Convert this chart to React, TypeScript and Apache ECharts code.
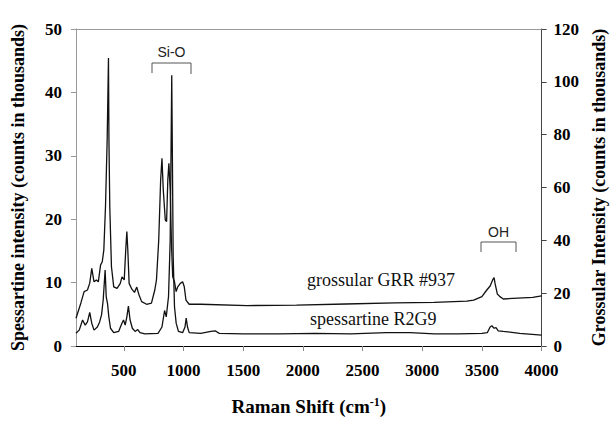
import React, { useEffect, useRef } from "react";
import * as echarts from "echarts";

// Raman shift ticks (cm-1)
const xTickValues = [500, 1000, 1500, 2000, 2500, 3000, 3500, 4000];

// Grossular GRR #937 (right axis, counts in thousands)
const grossularShift = [
  100, 141, 168, 196, 215, 232, 251, 271, 287, 306, 320, 333, 347, 361, 372,
  376, 383, 397, 416, 444, 471, 485, 504, 518, 526, 534, 545, 568, 590, 609,
  628, 650, 691, 732, 760, 774, 793, 809, 820, 831, 848, 859, 869, 878, 889,
  900, 910, 925, 939, 952, 974, 993, 1007, 1021, 1048, 1145, 1535, 1947, 2359,
  2771, 3101, 3373, 3431, 3500, 3541, 3569, 3590, 3602, 3610, 3629, 3651, 3679,
  3800, 3926, 4000,
];
const grossularIntensity = [
  10.5, 16.3, 20.6, 21.2, 23.8, 29.4, 24.3, 25.0, 24.3, 30.7, 31.9, 36.3, 52.7,
  78, 109, 78, 52.7, 30.0, 22.4, 21.8, 23.7, 26.2, 25.0, 37.6, 43.3, 36.3, 23.7,
  21.5, 20.3, 22.3, 19.3, 16.8, 15.8, 16.2, 21.2, 25.0, 40.1, 62.8, 71.1, 59.1,
  47.7, 47.1, 62.8, 69.2, 59.1, 38, 26.2, 24.3, 20.6, 22.4, 23.7, 24.3, 22.4,
  17.4, 15.8, 15.8, 15.3, 15.5, 15.9, 16.3, 16.5, 17.0, 17.4, 18.7, 21.2, 22.7,
  25.0, 25.9, 23.7, 19.7, 18.7, 17.8, 18.1, 18.4, 19.0,
];

// Spessartine R2G9 (left axis, counts in thousands)
const spessartineShift = [
  100, 127, 155, 177, 196, 215, 232, 251, 279, 298, 314, 328, 344, 353, 364,
  375, 389, 416, 457, 485, 498, 512, 526, 539, 553, 572, 595, 617, 636, 677,
  787, 820, 842, 856, 875, 889, 902, 914, 925, 939, 958, 993, 1013, 1023, 1034,
  1048, 1145, 1230, 1265, 1300, 1500, 1800, 2100, 2400, 2700, 2900, 3100, 3300,
  3500, 3545, 3569, 3583, 3602, 3618, 3637, 3679, 3816, 4000,
];
const spessartineIntensity = [
  2.0, 2.5, 4.1, 3.3, 3.8, 5.3, 3.6, 2.5, 3.0, 3.8, 4.9, 7.3, 12.0, 7.8, 6.7,
  4.6, 2.8, 2.1, 2.3, 3.6, 4.1, 3.3, 4.6, 6.3, 4.1, 2.8, 2.3, 2.6, 2.1, 1.9,
  2.0, 3.0, 5.6, 4.6, 7.8, 16.7, 42.7, 14.1, 6.2, 3.6, 2.3, 2.1, 3.0, 4.4, 3.0,
  2.1, 2.0, 2.3, 2.4, 2.0, 1.9, 1.9, 2.0, 1.9, 2.1, 2.1, 1.9, 1.9, 2.0, 2.1,
  3.0, 3.2, 2.8, 2.9, 2.4, 2.3, 2.0, 1.7,
];

const SERIF = "'Liberation Serif', 'Times New Roman', serif";
const SANS = "'Liberation Sans', Arial, sans-serif";

export default function App() {
  const ref = useRef<HTMLDivElement>(null);
  useEffect(() => {
    document.body.style.margin = "0";
    const chart = echarts.init(ref.current!, null, { renderer: "svg" });
    const gData = grossularShift.map((x, i) => [x, grossularIntensity[i]]);
    const sData = spessartineShift.map((x, i) => [x, spessartineIntensity[i]]);
    const plain = (v: number) => String(v);
    const tickLabel = {
      fontFamily: SERIF,
      fontWeight: "bold",
      fontSize: 17,
      color: "#000",
      formatter: plain,
    };
    const titleStyle = {
      fontFamily: SERIF,
      fontWeight: "bold",
      fontSize: 18,
      color: "#000",
    };
    chart.setOption({
      animation: false,
      backgroundColor: "#fff",
      grid: { left: 76, right: 67, top: 29, bottom: 76, containLabel: false },
      xAxis: [
        {
          type: "value",
          min: 100,
          max: 4000,
          position: "bottom",
          splitLine: { show: false },
          axisLine: { show: true, onZero: false, lineStyle: { color: "#000", width: 1 } },
          axisTick: {
            show: true,
            inside: false,
            length: 5,
            customValues: xTickValues,
            lineStyle: { color: "#888" },
          },
          axisLabel: { ...tickLabel, margin: 16, customValues: xTickValues },
          name: "Raman Shift (cm{sup|-1})",
          nameLocation: "middle",
          nameGap: 50,
          nameTextStyle: {
            ...titleStyle,
            fontSize: 19,
            rich: {
              sup: {
                fontFamily: SERIF,
                fontWeight: "bold",
                fontSize: 12,
                color: "#000",
                verticalAlign: "top",
                padding: [0, 0, 9, 0],
              },
            },
          },
        },
        {
          type: "value",
          min: 100,
          max: 4000,
          position: "top",
          splitLine: { show: false },
          axisLine: { show: true, onZero: false, lineStyle: { color: "#999", width: 1 } },
          axisTick: { show: false },
          axisLabel: { show: false },
        },
      ],
      yAxis: [
        {
          type: "value",
          min: 0,
          max: 50,
          interval: 10,
          position: "left",
          splitLine: { show: false },
          axisLine: { show: true, onZero: false, lineStyle: { color: "#999" } },
          axisTick: { show: true, inside: false, length: 5, lineStyle: { color: "#999" } },
          axisLabel: { ...tickLabel, margin: 14 },
          name: "Spessartine intensity (counts in thousands)",
          nameLocation: "middle",
          nameRotate: 90,
          nameGap: 49,
          nameTextStyle: titleStyle,
        },
        {
          type: "value",
          min: 0,
          max: 120,
          interval: 20,
          position: "right",
          splitLine: { show: false },
          axisLine: { show: true, onZero: false, lineStyle: { color: "#444" } },
          axisTick: { show: true, inside: false, length: 5, lineStyle: { color: "#444" } },
          axisLabel: { ...tickLabel, margin: 12 },
          name: "Grossular Intensity (counts in thousands)",
          nameLocation: "middle",
          nameRotate: 90,
          nameGap: 48,
          nameTextStyle: titleStyle,
        },
      ],
      series: [
        {
          name: "spessartine R2G9",
          type: "line",
          xAxisIndex: 0,
          yAxisIndex: 0,
          data: sData,
          showSymbol: false,
          symbol: "none",
          lineStyle: { color: "#111", width: 1.3 },
        },
        {
          name: "grossular GRR #937",
          type: "line",
          xAxisIndex: 0,
          yAxisIndex: 1,
          data: gData,
          showSymbol: false,
          symbol: "none",
          lineStyle: { color: "#111", width: 1.3 },
        },
      ],
      graphic: [
        {
          type: "polyline",
          shape: { points: [[152, 73], [152, 63], [191, 63], [191, 74]] },
          style: { stroke: "#555", lineWidth: 1, fill: null },
        },
        {
          type: "text",
          x: 171.5,
          y: 52,
          style: {
            text: "Si-O",
            font: `14px ${SANS}`,
            fill: "#222",
            align: "center",
            verticalAlign: "middle",
          },
        },
        {
          type: "polyline",
          shape: { points: [[481, 252], [481, 242], [516, 242], [516, 252]] },
          style: { stroke: "#555", lineWidth: 1, fill: null },
        },
        {
          type: "text",
          x: 498.5,
          y: 232,
          style: {
            text: "OH",
            font: `14px ${SANS}`,
            fill: "#222",
            align: "center",
            verticalAlign: "middle",
          },
        },
        {
          type: "text",
          x: 307,
          y: 280,
          style: {
            text: "grossular GRR #937",
            font: `18px ${SERIF}`,
            fill: "#111",
            align: "left",
            verticalAlign: "middle",
          },
        },
        {
          type: "text",
          x: 310,
          y: 319,
          style: {
            text: "spessartine R2G9",
            font: `18px ${SERIF}`,
            fill: "#111",
            align: "left",
            verticalAlign: "middle",
          },
        },
      ],
    });
    return () => chart.dispose();
  }, []);
  return <div ref={ref} style={{ width: 616, height: 422 }} />;
}
